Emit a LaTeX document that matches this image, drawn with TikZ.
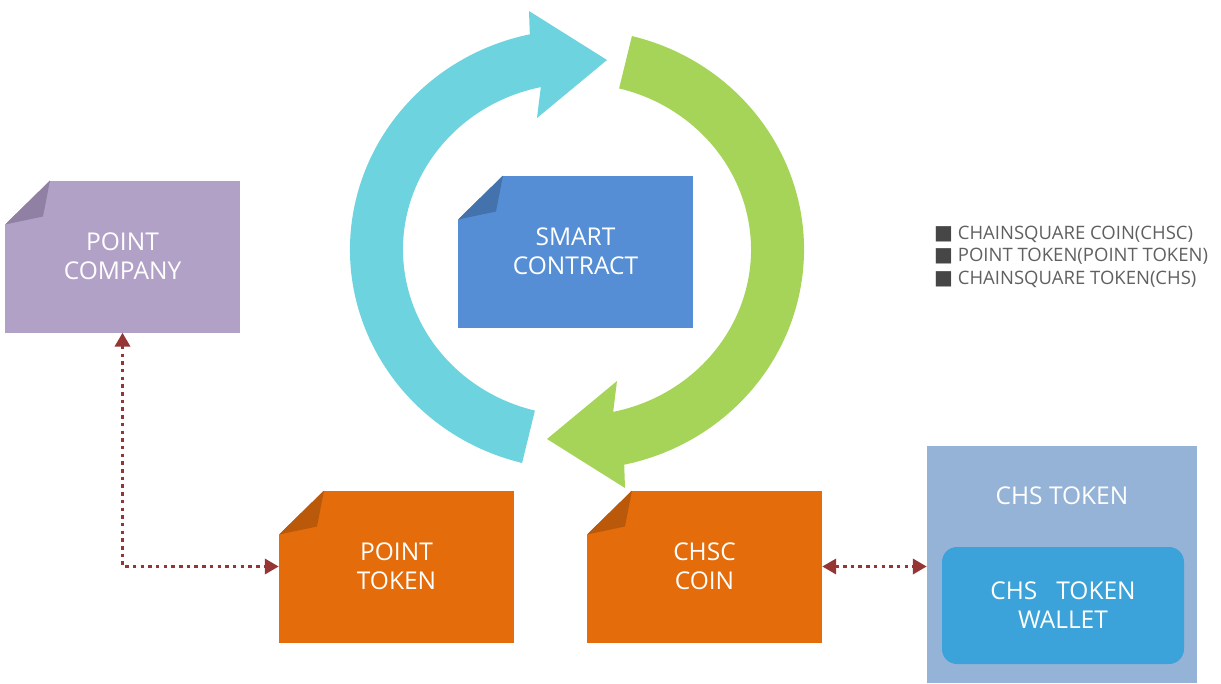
\documentclass[tikz,border=0pt]{standalone}
\usepackage{fontspec}
\setmainfont{Open Sans}
\newfontfamily\symfont{DejaVu Sans}
\usetikzlibrary{arrows.meta,calc}
\definecolor{arccyan}{RGB}{109,211,222}
\definecolor{arcgreen}{RGB}{166,212,89}
\definecolor{scblue}{RGB}{85,142,213}
\definecolor{scfold}{RGB}{68,114,172}
\definecolor{pcpurple}{RGB}{178,161,199}
\definecolor{pcfold}{RGB}{144,128,164}
\definecolor{tkorange}{RGB}{228,108,10}
\definecolor{tkfold}{RGB}{186,89,10}
\definecolor{chsblue}{RGB}{149,179,215}
\definecolor{walletblue}{RGB}{59,163,217}
\definecolor{linkred}{RGB}{150,54,52}
\definecolor{legendgray}{RGB}{96,96,96}
\definecolor{squaregray}{RGB}{70,70,70}

\begin{document}
\begin{tikzpicture}[x=1pt,y=-1pt,
    every node/.style={font=\fontsize{24.5}{29}\selectfont,text=white,align=center,inner sep=0pt},
    note/.style 2 args={fill=#1,minimum width=235,minimum height=152,
      path picture={
        \fill[white] (path picture bounding box.north west) -- ++(45,0) -- ++(-45,44) -- cycle;
        \fill[#2] ($(path picture bounding box.north west)+(45,0)$) -- ++(-7,36) -- ++(-38,8) -- cycle;}},
    link/.style={draw=linkred,line width=3.5pt,dash pattern=on 3.5pt off 4.2pt,
      {Triangle[length=14pt,width=15pt]}-{Triangle[length=14pt,width=15pt]}}]
  \useasboundingbox (0,0) rectangle (1221,683);
  % cycle arrows round the contract
  \coordinate (c) at (577,249.5);
  \fill[arccyan] ($(c)+(104:227 and 220)$) arc[start angle=104,end angle=258,x radius=227,y radius=220]
    -- ($(c)+(-48,-238.5)$) -- ($(c)+(30,-189.5)$) -- ($(c)+(-40,-131.5)$)
    -- ($(c)+(258:174 and 166)$) arc[start angle=258,end angle=104,x radius=174,y radius=166] -- cycle;
  \fill[arcgreen] ($(c)+(-76:227 and 220)$) arc[start angle=-76,end angle=78,x radius=227,y radius=220]
    -- ($(c)+(48,238.5)$) -- ($(c)+(-30,189.5)$) -- ($(c)+(40,131.5)$)
    -- ($(c)+(78:174 and 166)$) arc[start angle=78,end angle=-76,x radius=174,y radius=166] -- cycle;
  % boxes
  \node[note={pcpurple}{pcfold}] (pc) at (122.5,256.5) {POINT\\COMPANY};
  \node[note={scblue}{scfold}]   (sc) at (575.5,251.5) {SMART\\CONTRACT};
  \node[note={tkorange}{tkfold}] (pt) at (396.5,566.5) {POINT\\TOKEN};
  \node[note={tkorange}{tkfold}] (cc) at (704.5,566.5) {CHSC\\COIN};
  \node[fill=chsblue,minimum width=270,minimum height=237,
        label={[anchor=north,yshift=-41pt]north:CHS TOKEN}] (ct) at (1062,564.5) {};
  \node[fill=walletblue,rounded corners=15pt,minimum width=242,minimum height=117] (wl) at (1063,605.5) {CHS~~~TOKEN\\WALLET};
  \node[anchor=west,align=left,text=legendgray,font=\fontsize{18.5}{22.5}\selectfont] (legend) at (934,256.5)
    {\textcolor{squaregray}{\symfont\fontsize{20}{20}\selectfont■}~CHAINSQUARE COIN(CHSC)\\
     \textcolor{squaregray}{\symfont\fontsize{20}{20}\selectfont■}~POINT TOKEN(POINT TOKEN)\\
     \textcolor{squaregray}{\symfont\fontsize{20}{20}\selectfont■}~CHAINSQUARE TOKEN(CHS)};
  % links
  \draw[link] (pc.south) |- (pt.west);
  \draw[link] (cc.east) -- (cc.east -| ct.west);
\end{tikzpicture}
\end{document}
